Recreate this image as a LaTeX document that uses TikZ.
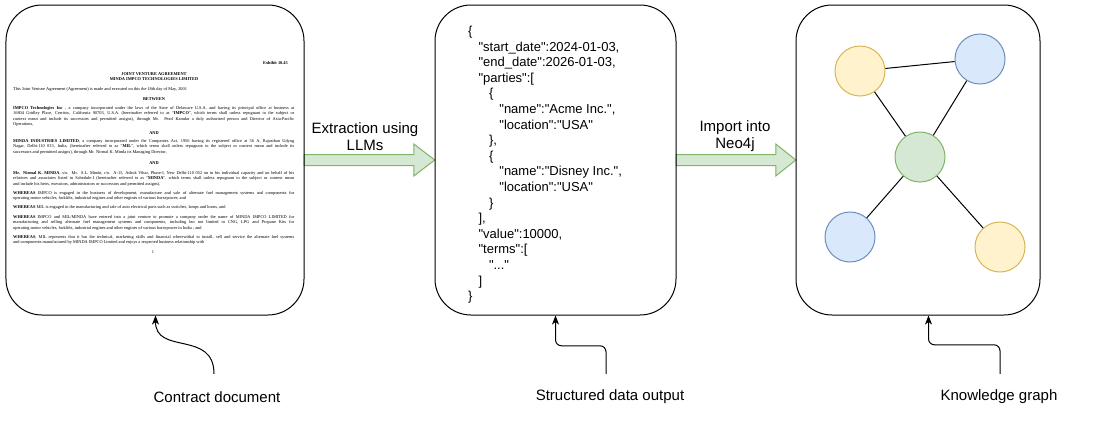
\documentclass[tikz,border=0pt]{standalone}
\usepackage{fontspec}
\setmainfont{Liberation Sans}
\newfontfamily\jsonfont{Liberation Sans}[Ligatures=TeXOff]
\newfontfamily\docserif{Liberation Serif}
\usetikzlibrary{arrows.meta,calc}
\definecolor{gfill}{HTML}{D5E8D4}
\definecolor{gline}{HTML}{82B366}
\definecolor{yfill}{HTML}{FFF2CC}
\definecolor{yline}{HTML}{D6B656}
\definecolor{bfill}{HTML}{DAE8FC}
\definecolor{bline}{HTML}{6C8EBF}
\newcommand{\jus}[1]{\makebox[281bp][s]{#1}}
\begin{document}
\begin{tikzpicture}[x=1bp,y=-1bp,
  panel/.style={draw=black, line width=1bp, rounded corners=36bp, inner sep=0pt},
  blockarrow/.style={fill=gfill, draw=gline, line width=1bp, line join=miter},
  lbl/.style={font=\fontsize{15bp}{17bp}\selectfont, align=center, inner sep=0pt},
  botlbl/.style={lbl, minimum height=46bp},
  conn/.style={draw=black, line width=1bp, -{Stealth[length=9bp,width=7bp,inset=2.5bp]}},
  jline/.style={anchor=base west, inner sep=0pt, font=\jsonfont\fontsize{13bp}{15.6bp}\selectfont},
  dl/.style={anchor=base west, inner sep=0pt, text=black, font=\docserif\fontsize{4.35bp}{5.2bp}\selectfont},
  dc/.style={dl, anchor=base},
  gnode/.style={circle, minimum size=50bp, inner sep=0pt, line width=1bp},
  gedge/.style={draw=black, line width=1bp}
]
\useasboundingbox[fill=white] (0,0) rectangle (1096,421);

% panels (coordinates only, drawn later)
\path (155,160) node[minimum width=298bp, minimum height=310bp, inner sep=0pt] (doc) {};
\path (555.5,160) node[minimum width=241bp, minimum height=310bp, inner sep=0pt] (json) {};
\path (918,160) node[minimum width=244bp, minimum height=310bp, inner sep=0pt] (kg) {};

% block arrows
\draw[blockarrow] ($(doc.east)+(0,-5.5)$) -- ($(json.west)+(-21,-5.5)$) -- ($(json.west)+(-21,-16)$)
  -- (json.west) -- ($(json.west)+(-21,16)$) -- ($(json.west)+(-21,5.5)$) -- ($(doc.east)+(0,5.5)$) -- cycle;
\draw[blockarrow] ($(json.east)+(0,-5.5)$) -- ($(kg.west)+(-20,-5.5)$) -- ($(kg.west)+(-20,-16)$)
  -- (kg.west) -- ($(kg.west)+(-20,16)$) -- ($(kg.west)+(-20,5.5)$) -- ($(json.east)+(0,5.5)$) -- cycle;

\node[panel, minimum width=298bp, minimum height=310bp] (docb) at (doc) {};
\node[panel, minimum width=241bp, minimum height=310bp] (jsonb) at (json) {};
\node[panel, minimum width=244bp, minimum height=310bp] (kgb) at (kg) {};

\node[lbl] (t1) at (365,136.5) {Extraction using\\LLMs};
\node[lbl] (t2) at (735,136.5) {Import into\\Neo4j};

% document text
\node[dl, anchor=base east] (p1) at (288,64.5) {\bfseries Exhibit 10.45};
\node[dc] (p2) at (154,75) {\bfseries JOINT VENTURE AGREEMENT};
\node[dc] (p3) at (154,80.5) {\bfseries MINDA IMPCO TECHNOLOGIES LIMITED};
\node[dl] (p4) at (13,90) {This Joint Venture Agreement (Agreement) is made and executed on this the 18th day of May, 2001};
\node[dc] (p5) at (154,100) {\bfseries BETWEEN};
\node[dl] (p6) at (13,109.5) {\jus{{\bfseries IMPCO Technologies Inc} , a company incorporated under the laws of the State of Delaware U.S.A. and having its principal office at business at}};
\node[dl] (p7) at (13,114.8) {\jus{16804 Gridley Place, Cerritos, California 90703, U.S.A. (hereinafter referred to as “{\bfseries IMPCO}”, which terms shall unless repugnant to the subject or}};
\node[dl] (p8) at (13,120.1) {\jus{context mean and include its successors and permitted assigns), through Mr. Pearl Kamdar a duly authorized person and Director of Asia-Pacific}};
\node[dl] (p9) at (13,125.4) {Operations,};
\node[dc] (p10) at (154,134.5) {\bfseries AND};
\node[dl] (p11) at (13,142.5) {\jus{{\bfseries MINDA INDUSTRIES LIMITED}, a company incorporated under the Companies Act, 1956 having its registered office at 56 A, Rajasthan Udyog}};
\node[dl] (p12) at (13,147.8) {\jus{Nagar, Delhi-110 033, India, (hereinafter referred to as “{\bfseries MIL}”, which terms shall unless repugnant to the subject or context mean and include its}};
\node[dl] (p13) at (13,153.1) {successors and permitted assigns), through Mr. Nirmal K. Minda its Managing Director,};
\node[dc] (p14) at (154,164.5) {\bfseries AND};
\node[dl] (p15) at (13,174.5) {\jus{{\bfseries Mr. Nirmal K. MINDA}, s/o. Mr. S.L. Minda, r/o. A-15, Ashok Vihar, Phase-I, New Delhi-110 052 on in his individual capacity and on behalf of his}};
\node[dl] (p16) at (13,179.8) {\jus{relatives and associates listed in Schedule-I (hereinafter referred to as “{\bfseries MINDA}”, which terms shall unless repugnant to the subject or context mean}};
\node[dl] (p17) at (13,185.1) {and include his heirs, executors, administrators or successors and permitted assigns).};
\node[dl] (p18) at (13,194.5) {\jus{{\bfseries WHEREAS} IMPCO is engaged in the business of development, manufacture and sale of alternate fuel management systems and components for}};
\node[dl] (p19) at (13,199.8) {operating motor vehicles, forklifts, industrial engines and other engines of various horsepower; and};
\node[dl] (p20) at (13,208.5) {{\bfseries WHEREAS} MIL is engaged in the manufacturing and sale of auto electrical parts such as switches, lamps and horns, and};
\node[dl] (p21) at (13,218.5) {\jus{{\bfseries WHEREAS} IMPCO and MIL/MINDA have entered into a joint venture to promote a company under the name of MINDA IMPCO LIMITED for}};
\node[dl] (p22) at (13,223.8) {\jus{manufacturing and selling alternate fuel management systems and components, including but not limited to CNG, LPG and Propane Kits for}};
\node[dl] (p23) at (13,229.1) {operating motor vehicles, forklifts, industrial engines and other engines of various horsepower in India ; and};
\node[dl] (p24) at (13,238.5) {\jus{{\bfseries WHEREAS}, MIL represents that it has the technical, marketing skills and financial wherewithal to install, sell and service the alternate fuel systems}};
\node[dl] (p25) at (13,243.8) {and components manufactured by MINDA IMPCO Limited and enjoys a respected business relationship with};
\node[dc] (p26) at (153,253.5) {1};

% JSON
\foreach \lv/\tx [count=\i from 0] in {0/{\{}, 1/{"start\_date":2024-01-03,}, 1/{"end\_date":2026-01-03,}, 1/{"parties":[},
  2/{\{}, 3/{"name":"Acme Inc.",}, 3/{"location":"USA"}, 2/{\},}, 2/{\{}, 3/{"name":"Disney Inc.",}, 3/{"location":"USA"},
  2/{\}}, 1/{],}, 1/{"value":10000,}, 1/{"terms":[}, 2/{"..."}, 1/{]}, 0/{\}}} {
  \node[jline] (j\i) at ({468+10.4*\lv},{35.5+15.6*\i}) {\tx};
}

% graph
\node[gnode, draw=yline, fill=yfill] (y1) at (860,71) {};
\node[gnode, draw=bline, fill=bfill] (b1) at (980,59) {};
\node[gnode, draw=gline, fill=gfill] (g) at (920,157) {};
\node[gnode, draw=bline, fill=bfill] (b2) at (850,237) {};
\node[gnode, draw=yline, fill=yfill] (y2) at (1000,247) {};
\draw[gedge] (y1) -- (b1);
\draw[gedge] (y1) -- (g);
\draw[gedge] (b1) -- (g);
\draw[gedge] (g) -- (b2);
\draw[gedge] (g) -- (y2);

% bottom labels and connectors
\node[botlbl] (l1) at (217,397) {Contract document};
\node[botlbl] (l2) at (610,397) {Structured data output};
\node[botlbl] (l3) at (999,397) {Knowledge graph};
\draw[conn] ([xshift=-3bp]l1.north) .. controls +(0,-44) and +(0,40) .. ([xshift=150bp]docb.south west);
\draw[conn, rounded corners=6bp] ([xshift=-4bp]l2.north) -- ++(0,-28) -| ([xshift=121bp]jsonb.south west);
\draw[conn, rounded corners=6bp] ([xshift=1bp]l3.north) -- ++(0,-29) -| ([xshift=133bp]kgb.south west);
\end{tikzpicture}
\end{document}
